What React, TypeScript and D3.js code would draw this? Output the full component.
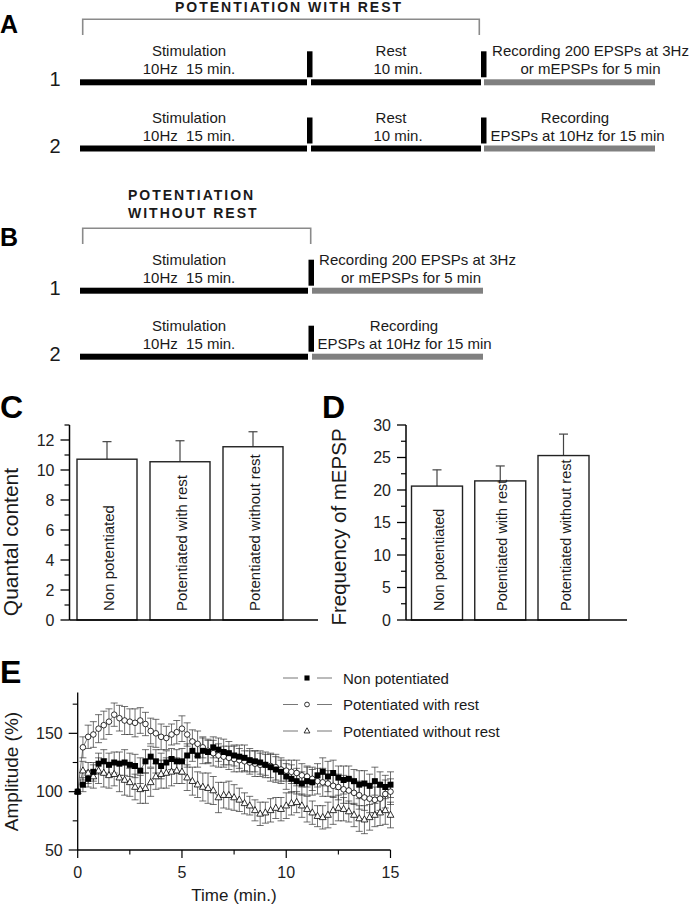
import React from 'react';
import * as d3 from 'd3';

const FONT = "'Liberation Sans', Arial, Helvetica, sans-serif";

// ---------- Panel A / B protocol texts ----------
const protoATitle = "POTENTIATION WITH REST";
const protoBTitle = ["POTENTIATION", "WITHOUT REST"];
const rowNumbers = ["1", "2"];
const stimText = ["Stimulation", "10Hz  15 min."];
const restText = ["Rest", "10 min."];
const recText1 = ["Recording 200 EPSPs at 3Hz", "or mEPSPs for 5 min"];
const recText2 = ["Recording", "EPSPs at 10Hz for 15 min"];

// ---------- Panel C / D ----------
const barCategories = ["Non potentiated", "Potentiated with rest", "Potentiated without rest"];
const quantalMeans = [10.72, 10.55, 11.55];
const quantalErrors = [1.17, 1.4, 1.0];
const freqMeans = [20.6, 21.4, 25.3];
const freqErrors = [2.5, 2.3, 3.3];
const quantalMajor = [0, 2, 4, 6, 8, 10, 12];
const quantalMinor = [1, 3, 5, 7, 9, 11, 13];
const freqMajor = [0, 5, 10, 15, 20, 25, 30];
const freqMinor = [2.5, 7.5, 12.5, 17.5, 22.5, 27.5];

// ---------- Panel E ----------
const seriesNames = ["Non potentiated", "Potentiated with rest", "Potentiated without rest"];
const timeMin = d3.range(61).map((i) => i * 0.25);
const nonPot = [
  100, 106, 111, 117, 124, 126, 123, 125, 124, 125,
  123, 122, 118, 126, 130, 126, 122, 125, 128, 126,
  126, 131, 135, 131, 135, 134, 138, 136, 134, 133,
  131, 130, 129, 127, 126, 125, 123, 121, 119, 117,
  113, 111, 109, 107, 109, 108, 114, 117, 113, 116,
  112, 110, 111, 109, 106, 107, 105, 109, 106, 104,
  106,
];
const nonPotErr = [
  0, 6, 7, 8, 9, 10, 10, 9, 10, 11,
  10, 10, 11, 10, 9, 10, 11, 10, 9, 10,
  11, 10, 9, 10, 11, 10, 9, 10, 11, 10,
  9, 10, 11, 10, 9, 10, 11, 12, 11, 10,
  11, 12, 11, 10, 12, 11, 10, 12, 13, 11,
  10, 12, 11, 10, 12, 11, 10, 12, 11, 10,
  11,
];
const potRest = [
  100, 138, 147, 149, 154, 157, 160, 166, 163, 161,
  160, 159, 161, 158, 152, 150, 147, 146, 149, 151,
  154, 149, 143, 141, 138, 135, 133, 131, 130, 129,
  128, 127, 126, 125, 124, 123, 123, 122, 121, 119,
  118, 117, 116, 114, 113, 111, 109, 108, 107, 105,
  104, 102, 101, 99, 97, 95, 94, 93, 94, 98,
  100,
];
const potRestErr = [
  0, 9, 10, 11, 12, 12, 11, 10, 11, 12,
  11, 12, 11, 10, 11, 12, 11, 10, 9, 10,
  11, 10, 10, 11, 9, 10, 11, 10, 9, 10,
  11, 10, 9, 10, 11, 10, 9, 10, 11, 10,
  9, 10, 11, 10, 9, 10, 11, 12, 11, 10,
  11, 12, 11, 10, 12, 11, 12, 11, 10, 12,
  11,
];
const potNoRest = [
  100, 118, 116, 113, 118, 116, 114, 115, 112, 110,
  108, 104, 102, 103, 108, 113, 115, 116, 117, 118,
  117, 112, 109, 106, 104, 103, 101, 95, 97, 97,
  95, 93, 90, 88, 84, 81, 82, 84, 86, 85,
  88, 90, 91, 88, 85, 82, 79, 78, 80, 84,
  86, 85, 83, 80, 77, 76, 78, 80, 82, 84,
  80,
];
const potNoRestErr = [
  0, 8, 9, 10, 11, 12, 11, 10, 12, 13,
  12, 11, 12, 13, 12, 11, 12, 13, 12, 11,
  10, 11, 12, 11, 12, 13, 12, 13, 11, 12,
  11, 10, 9, 8, 9, 10, 9, 10, 9, 10,
  11, 10, 9, 10, 11, 10, 9, 10, 11, 12,
  11, 10, 9, 10, 11, 12, 11, 10, 11, 12,
  11,
];
const ampMajor = [50, 100, 150];
const ampMinor = [75, 125, 175];
const timeMajor = [0, 5, 10, 15];
const timeMinor = [2.5, 7.5, 12.5];

const TXT = '#1a1a1a';

function Marker({ kind, x, y, s = 1 }: { kind: string; x: number; y: number; s?: number }) {
  if (kind === 'square') return <rect x={x - 3 * s} y={y - 3 * s} width={6 * s} height={6 * s} fill="#000" />;
  if (kind === 'circle') return <circle cx={x} cy={y} r={2.8 * s} fill="#fff" stroke="#000" strokeWidth={0.8} />;
  return (
    <path
      d={`M${x},${y - 3.8 * s}L${x + 3.4 * s},${y + 2.3 * s}L${x - 3.4 * s},${y + 2.3 * s}Z`}
      fill="#fff"
      stroke="#000"
      strokeWidth={0.8}
    />
  );
}

function ProtocolRow({ y, num, segs, bars, texts }: any) {
  return (
    <g>
      <text x={55} y={y + 4} fontSize={20} textAnchor="middle" fill={TXT}>{num}</text>
      {segs.map((s: any, i: number) => (
        <rect key={i} x={s.x1} y={y - 3} width={s.x2 - s.x1} height={6} fill={s.color} />
      ))}
      {bars.map((bx: number, i: number) => (
        <rect key={i} x={bx} y={y - 31} width={5.5} height={26} fill="#000" />
      ))}
      {texts.map((t: any, i: number) => (
        <g key={i}>
          <text x={t.cx1} y={y - 26} fontSize={15} textAnchor="middle" fill={TXT} style={{ whiteSpace: 'pre' }}>{t.lines[0]}</text>
          <text x={t.cx2} y={y - 8} fontSize={15} textAnchor="middle" fill={TXT} style={{ whiteSpace: 'pre' }}>{t.lines[1]}</text>
        </g>
      ))}
    </g>
  );
}

function BarPanel({ axisX, axisEnd, yScale, centers, barW, means, errs, majors, minors, labelSize, labelOff, title, titleX, titleCy, titleSize }: any) {
  const y0 = yScale(0);
  const top = yScale(yScale.domain()[1]);
  return (
    <g>
      {means.map((m: number, i: number) => {
        const cx = centers(barCategories[i]);
        return (
          <g key={i}>
            <line x1={cx} x2={cx} y1={yScale(m)} y2={yScale(m + errs[i])} stroke="#444" strokeWidth={1.2} />
            <line x1={cx - 4.5} x2={cx + 4.5} y1={yScale(m + errs[i])} y2={yScale(m + errs[i])} stroke="#444" strokeWidth={1.2} />
            <rect x={cx - barW / 2} y={yScale(m)} width={barW} height={y0 - yScale(m)} fill="#fff" stroke="#222" strokeWidth={1.4} />
            <text transform={`translate(${cx + labelOff},611) rotate(-90)`} fontSize={labelSize} fill={TXT}>{barCategories[i]}</text>
          </g>
        );
      })}
      <line x1={axisX} x2={axisX} y1={y0} y2={top} stroke="#000" strokeWidth={1.5} />
      <line x1={axisX} x2={axisEnd} y1={y0} y2={y0} stroke="#000" strokeWidth={1.5} />
      {majors.map((v: number) => (
        <g key={'M' + v}>
          <line x1={axisX - 9} x2={axisX} y1={yScale(v)} y2={yScale(v)} stroke="#000" strokeWidth={1.3} />
          <text x={axisX - 15} y={yScale(v)} dy="0.36em" fontSize={16} textAnchor="end" fill="#222">{v}</text>
        </g>
      ))}
      {minors.map((v: number) => (
        <line key={'m' + v} x1={axisX - 5} x2={axisX} y1={yScale(v)} y2={yScale(v)} stroke="#000" strokeWidth={1.2} />
      ))}
      <text transform={`translate(${titleX},${titleCy}) rotate(-90)`} fontSize={titleSize} textAnchor="middle" fill={TXT}>{title}</text>
    </g>
  );
}

export default function App() {
  const aRows = [82.3, 148.5];
  const bRows = [290.7, 356.7];

  const qScale = d3.scaleLinear().domain([0, 13]).range([620, 425]);
  const fScale = d3.scaleLinear().domain([0, 30]).range([620, 425]);
  const cCenters = d3.scalePoint<string>().domain(barCategories).range([107, 253]);
  const dCenters = d3.scalePoint<string>().domain(barCategories).range([437, 563.5]);

  const xE = d3.scaleLinear().domain([0, 15]).range([77.7, 390.5]);
  const yE = d3.scaleLinear().domain([50, 185]).range([850, 692.5]);
  const series = [
    { name: seriesNames[2], vals: potNoRest, errs: potNoRestErr, kind: 'triangle' },
    { name: seriesNames[1], vals: potRest, errs: potRestErr, kind: 'circle' },
    { name: seriesNames[0], vals: nonPot, errs: nonPotErr, kind: 'square' },
  ];
  const lineGen = d3.line<number>().x((_, i) => xE(timeMin[i])).y((d) => yE(d));
  const legendKinds = ['square', 'circle', 'triangle'];
  const legendY = [678, 704.5, 731];

  return (
    <svg width={690} height={906} style={{ position: 'absolute', left: 0, top: 0, background: '#fff' }} fontFamily={FONT}>
      <rect width={690} height={906} fill="#fff" />

      {/* Panel A */}
      <text x={0} y={33} fontSize={25} fontWeight="bold" fill="#000">A</text>
      <text x={175} y={11.5} fontSize={14} fontWeight="bold" letterSpacing={2} fill={TXT}>{protoATitle}</text>
      <path d="M82.7,35V19.3H479.3V35" fill="none" stroke="#8a8a8a" strokeWidth={1.6} />
      {aRows.map((y, i) => (
        <ProtocolRow
          key={i}
          y={y}
          num={rowNumbers[i]}
          segs={[
            { x1: 80, x2: 307, color: '#000' },
            { x1: 311, x2: 481, color: '#000' },
            { x1: 484, x2: 655, color: '#808080' },
          ]}
          bars={[307, 481]}
          texts={[
            { cx1: 189, cx2: 189, lines: stimText },
            { cx1: 391, cx2: 398, lines: restText },
            i === 0 ? { cx1: 590.5, cx2: 590.5, lines: recText1 } : { cx1: 575, cx2: 577.5, lines: recText2 },
          ]}
        />
      ))}

      {/* Panel B */}
      <text x={0} y={246} fontSize={25} fontWeight="bold" fill="#000">B</text>
      <text x={128} y={200} fontSize={14} fontWeight="bold" letterSpacing={2} fill={TXT}>{protoBTitle[0]}</text>
      <text x={128} y={218} fontSize={14} fontWeight="bold" letterSpacing={2} fill={TXT}>{protoBTitle[1]}</text>
      <path d="M82.7,244V228.3H310.7V244" fill="none" stroke="#8a8a8a" strokeWidth={1.6} />
      {bRows.map((y, i) => (
        <ProtocolRow
          key={i}
          y={y}
          num={rowNumbers[i]}
          segs={[
            { x1: 80, x2: 308, color: '#000' },
            { x1: 312, x2: 483, color: '#808080' },
          ]}
          bars={[308.5]}
          texts={[
            { cx1: 189, cx2: 189, lines: stimText },
            i === 0 ? { cx1: 417.5, cx2: 411, lines: recText1 } : { cx1: 404, cx2: 404.5, lines: recText2 },
          ]}
        />
      ))}

      {/* Panel C */}
      <text x={0} y={418} fontSize={32} fontWeight="bold" fill="#000">C</text>
      <BarPanel
        axisX={69.5}
        axisEnd={318}
        yScale={qScale}
        centers={cCenters}
        barW={60}
        means={quantalMeans}
        errs={quantalErrors}
        majors={quantalMajor}
        minors={quantalMinor}
        labelSize={15}
        labelOff={7.4}
        title="Quantal content"
        titleX={18}
        titleCy={542}
        titleSize={21}
      />

      {/* Panel D */}
      <text x={322} y={418} fontSize={32} fontWeight="bold" fill="#000">D</text>
      <BarPanel
        axisX={406}
        axisEnd={627}
        yScale={fScale}
        centers={dCenters}
        barW={51}
        means={freqMeans}
        errs={freqErrors}
        majors={freqMajor}
        minors={freqMinor}
        labelSize={14.5}
        labelOff={7.2}
        title="Frequency of mEPSP"
        titleX={346}
        titleCy={527}
        titleSize={20.5}
      />

      {/* Panel E */}
      <text x={0} y={683} fontSize={32} fontWeight="bold" fill="#000">E</text>
      {series.map((s) => (
        <g key={'e' + s.kind}>
          {s.vals.map((v, i) =>
            s.errs[i] > 0 ? (
              <g key={i}>
                <line x1={xE(timeMin[i])} x2={xE(timeMin[i])} y1={yE(v - s.errs[i])} y2={yE(v + s.errs[i])} stroke="#333" strokeWidth={0.7} />
                <line x1={xE(timeMin[i]) - 3.5} x2={xE(timeMin[i]) + 3.5} y1={yE(v + s.errs[i])} y2={yE(v + s.errs[i])} stroke="#333" strokeWidth={0.7} />
                <line x1={xE(timeMin[i]) - 3.5} x2={xE(timeMin[i]) + 3.5} y1={yE(v - s.errs[i])} y2={yE(v - s.errs[i])} stroke="#333" strokeWidth={0.7} />
              </g>
            ) : null
          )}
        </g>
      ))}
      {series.map((s) => (
        <path key={'l' + s.kind} d={lineGen(s.vals) || ''} fill="none" stroke="#444" strokeWidth={0.7} />
      ))}
      {series.map((s) => (
        <g key={'m' + s.kind}>
          {s.vals.map((v, i) => (
            <Marker key={i} kind={s.kind} x={xE(timeMin[i])} y={yE(v)} />
          ))}
        </g>
      ))}
      <line x1={xE(0)} x2={xE(0)} y1={yE(50)} y2={yE(185)} stroke="#000" strokeWidth={1.3} />
      <line x1={xE(0)} x2={xE(15)} y1={yE(50)} y2={yE(50)} stroke="#000" strokeWidth={1.3} />
      {ampMajor.map((v) => (
        <g key={'am' + v}>
          <line x1={xE(0) - 9} x2={xE(0)} y1={yE(v)} y2={yE(v)} stroke="#000" strokeWidth={1.2} />
          <text x={xE(0) - 15} y={yE(v)} dy="0.36em" fontSize={16} textAnchor="end" fill="#222">{v}</text>
        </g>
      ))}
      {ampMinor.map((v) => (
        <line key={'an' + v} x1={xE(0) - 5} x2={xE(0)} y1={yE(v)} y2={yE(v)} stroke="#000" strokeWidth={1.1} />
      ))}
      {timeMajor.map((v) => (
        <g key={'tm' + v}>
          <line x1={xE(v)} x2={xE(v)} y1={yE(50)} y2={yE(50) + 8} stroke="#000" strokeWidth={1.2} />
          <text x={xE(v)} y={878} fontSize={16} textAnchor="middle" fill="#222">{v}</text>
        </g>
      ))}
      {timeMinor.map((v) => (
        <line key={'tn' + v} x1={xE(v)} x2={xE(v)} y1={yE(50)} y2={yE(50) + 4.5} stroke="#000" strokeWidth={1.1} />
      ))}
      <text transform="translate(18,771.5) rotate(-90)" fontSize={19} textAnchor="middle" fill={TXT}>Amplitude (%)</text>
      <text x={234} y={901} fontSize={17} textAnchor="middle" fill={TXT}>Time (min.)</text>
      {legendKinds.map((k, i) => (
        <g key={'lg' + k}>
          <line x1={283} x2={298} y1={legendY[i]} y2={legendY[i]} stroke="#777" strokeWidth={1} />
          <line x1={317} x2={332} y1={legendY[i]} y2={legendY[i]} stroke="#777" strokeWidth={1} />
          <Marker kind={k} x={307} y={legendY[i]} s={0.85} />
          <text x={343} y={legendY[i] + 5.5} fontSize={15} fill={TXT}>{seriesNames[i]}</text>
        </g>
      ))}
    </svg>
  );
}
